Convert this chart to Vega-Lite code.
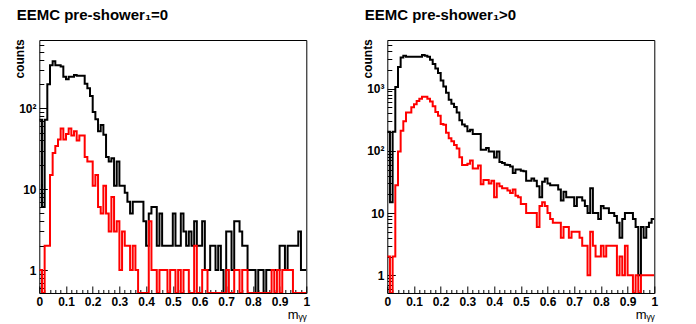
{
"$schema": "https://vega.github.io/schema/vega-lite/v6.json",
"background": "white",
"padding": {"left": 12.3, "top": 7, "right": 2, "bottom": 2},
"datasets": {
"left": [
{"m":0,"all":72,"sel":1},{"m":0.01,"all":6,"sel":0},{"m":0.02,"all":72,"sel":2},{"m":0.03,"all":198,"sel":2},{"m":0.04,"all":340,"sel":15},
{"m":0.05,"all":380,"sel":28},{"m":0.06,"all":340,"sel":34},{"m":0.07,"all":340,"sel":41},{"m":0.08,"all":327,"sel":56},{"m":0.09,"all":245,"sel":41},
{"m":0.1,"all":228,"sel":48},{"m":0.11,"all":245,"sel":56},{"m":0.12,"all":245,"sel":46},{"m":0.13,"all":257,"sel":52},{"m":0.14,"all":252,"sel":40},
{"m":0.15,"all":252,"sel":46},{"m":0.16,"all":252,"sel":46},{"m":0.17,"all":201,"sel":25},{"m":0.18,"all":176,"sel":22},{"m":0.19,"all":142,"sel":22},
{"m":0.2,"all":90,"sel":11},{"m":0.21,"all":73,"sel":15},{"m":0.22,"all":52,"sel":6},{"m":0.23,"all":62,"sel":5},{"m":0.24,"all":47,"sel":11},
{"m":0.25,"all":25,"sel":5},{"m":0.26,"all":22,"sel":3},{"m":0.27,"all":24,"sel":8},{"m":0.28,"all":11,"sel":3},{"m":0.29,"all":22,"sel":4},
{"m":0.3,"all":11,"sel":1},{"m":0.31,"all":11,"sel":3},{"m":0.32,"all":9,"sel":2},{"m":0.33,"all":7,"sel":2},{"m":0.34,"all":5,"sel":1},
{"m":0.35,"all":7,"sel":2},{"m":0.36,"all":7,"sel":1},{"m":0.37,"all":7,"sel":0},{"m":0.38,"all":7,"sel":0},{"m":0.39,"all":4,"sel":0},
{"m":0.4,"all":2,"sel":0},{"m":0.41,"all":5,"sel":4},{"m":0.42,"all":6,"sel":1},{"m":0.43,"all":6,"sel":1},{"m":0.44,"all":2,"sel":0},
{"m":0.45,"all":5,"sel":1},{"m":0.46,"all":2,"sel":1},{"m":0.47,"all":2,"sel":1},{"m":0.48,"all":2,"sel":0},{"m":0.49,"all":2,"sel":1},
{"m":0.5,"all":5,"sel":1},{"m":0.51,"all":2,"sel":0},{"m":0.52,"all":2,"sel":1},{"m":0.53,"all":5,"sel":0},{"m":0.54,"all":3,"sel":1},
{"m":0.55,"all":2,"sel":1},{"m":0.56,"all":3,"sel":0},{"m":0.57,"all":2,"sel":0},{"m":0.58,"all":4,"sel":2},{"m":0.59,"all":2,"sel":0},
{"m":0.6,"all":2,"sel":0},{"m":0.61,"all":4,"sel":1},{"m":0.62,"all":1,"sel":1},{"m":0.63,"all":1,"sel":0},{"m":0.64,"all":2,"sel":0},
{"m":0.65,"all":2,"sel":0},{"m":0.66,"all":1,"sel":0},{"m":0.67,"all":2,"sel":0},{"m":0.68,"all":1,"sel":0},{"m":0.69,"all":0,"sel":0},
{"m":0.7,"all":3,"sel":1},{"m":0.71,"all":3,"sel":0},{"m":0.72,"all":1,"sel":0},{"m":0.73,"all":4,"sel":1},{"m":0.74,"all":4,"sel":1},
{"m":0.75,"all":3,"sel":0},{"m":0.76,"all":2,"sel":1},{"m":0.77,"all":2,"sel":1},{"m":0.78,"all":1,"sel":0},{"m":0.79,"all":1,"sel":0},
{"m":0.8,"all":1,"sel":0},{"m":0.81,"all":0,"sel":0},{"m":0.82,"all":1,"sel":0},{"m":0.83,"all":1,"sel":0},{"m":0.84,"all":0,"sel":0},
{"m":0.85,"all":1,"sel":0},{"m":0.86,"all":1,"sel":0},{"m":0.87,"all":1,"sel":1},{"m":0.88,"all":1,"sel":0},{"m":0.89,"all":1,"sel":1},
{"m":0.9,"all":2,"sel":0},{"m":0.91,"all":2,"sel":1},{"m":0.92,"all":1,"sel":1},{"m":0.93,"all":2,"sel":1},{"m":0.94,"all":2,"sel":1},
{"m":0.95,"all":2,"sel":0},{"m":0.96,"all":2,"sel":0},{"m":0.97,"all":3,"sel":0},{"m":0.98,"all":1,"sel":0},{"m":0.99,"all":1,"sel":0},
{"m":1,"all":1,"sel":0}
],
"right": [
{"m":0,"all":202,"sel":2},{"m":0.01,"all":15,"sel":0},{"m":0.02,"all":202,"sel":2},{"m":0.03,"all":1062,"sel":28},{"m":0.04,"all":2230,"sel":98},
{"m":0.05,"all":3170,"sel":210},{"m":0.06,"all":3370,"sel":300},{"m":0.07,"all":3240,"sel":415},{"m":0.08,"all":3240,"sel":415},{"m":0.09,"all":3240,"sel":500},
{"m":0.1,"all":3240,"sel":560},{"m":0.11,"all":3240,"sel":630},{"m":0.12,"all":3240,"sel":690},{"m":0.13,"all":3480,"sel":740},{"m":0.14,"all":3370,"sel":740},
{"m":0.15,"all":3240,"sel":690},{"m":0.16,"all":2920,"sel":620},{"m":0.17,"all":2480,"sel":520},{"m":0.18,"all":2100,"sel":420},{"m":0.19,"all":1780,"sel":365},
{"m":0.2,"all":1350,"sel":270},{"m":0.21,"all":1080,"sel":263},{"m":0.22,"all":860,"sel":195},{"m":0.23,"all":660,"sel":160},{"m":0.24,"all":570,"sel":142},
{"m":0.25,"all":505,"sel":124},{"m":0.26,"all":415,"sel":109},{"m":0.27,"all":310,"sel":79},{"m":0.28,"all":265,"sel":59},{"m":0.29,"all":249,"sel":59},
{"m":0.3,"all":207,"sel":62},{"m":0.31,"all":219,"sel":70},{"m":0.32,"all":186,"sel":52},{"m":0.33,"all":186,"sel":52},{"m":0.34,"all":186,"sel":58},
{"m":0.35,"all":104,"sel":29},{"m":0.36,"all":104,"sel":34},{"m":0.37,"all":111,"sel":34},{"m":0.38,"all":98,"sel":30},{"m":0.39,"all":98,"sel":33},
{"m":0.4,"all":78,"sel":18},{"m":0.41,"all":98,"sel":30},{"m":0.42,"all":66,"sel":27},{"m":0.43,"all":64,"sel":25},{"m":0.44,"all":60,"sel":25},
{"m":0.45,"all":59,"sel":23},{"m":0.46,"all":56,"sel":21},{"m":0.47,"all":44,"sel":24},{"m":0.48,"all":50,"sel":19},{"m":0.49,"all":50,"sel":18},
{"m":0.5,"all":48,"sel":14},{"m":0.51,"all":47,"sel":14},{"m":0.52,"all":33,"sel":10},{"m":0.53,"all":33,"sel":10},{"m":0.54,"all":36,"sel":10},
{"m":0.55,"all":33,"sel":10},{"m":0.56,"all":27,"sel":6},{"m":0.57,"all":18,"sel":13},{"m":0.58,"all":32,"sel":15},{"m":0.59,"all":36,"sel":13},
{"m":0.6,"all":30,"sel":10},{"m":0.61,"all":28,"sel":8},{"m":0.62,"all":28,"sel":7},{"m":0.63,"all":28,"sel":7},{"m":0.64,"all":24,"sel":7},
{"m":0.65,"all":16,"sel":4},{"m":0.66,"all":22,"sel":6},{"m":0.67,"all":18,"sel":6},{"m":0.68,"all":18,"sel":4},{"m":0.69,"all":18,"sel":5},
{"m":0.7,"all":13,"sel":5},{"m":0.71,"all":18,"sel":5},{"m":0.72,"all":18,"sel":4},{"m":0.73,"all":16,"sel":3},{"m":0.74,"all":13,"sel":3},
{"m":0.75,"all":10,"sel":1},{"m":0.76,"all":25,"sel":5},{"m":0.77,"all":10,"sel":3},{"m":0.78,"all":10,"sel":2},{"m":0.79,"all":8,"sel":2},
{"m":0.8,"all":13,"sel":3},{"m":0.81,"all":12,"sel":2},{"m":0.82,"all":12,"sel":3},{"m":0.83,"all":10,"sel":3},{"m":0.84,"all":10,"sel":3},
{"m":0.85,"all":9,"sel":3},{"m":0.86,"all":7,"sel":1},{"m":0.87,"all":4,"sel":2},{"m":0.88,"all":8,"sel":1},{"m":0.89,"all":10,"sel":3},
{"m":0.9,"all":10,"sel":1},{"m":0.91,"all":10,"sel":1},{"m":0.92,"all":8,"sel":0},{"m":0.93,"all":6,"sel":1},{"m":0.94,"all":1,"sel":0},
{"m":0.95,"all":6,"sel":1},{"m":0.96,"all":4,"sel":1},{"m":0.97,"all":6,"sel":1},{"m":0.98,"all":7,"sel":1},{"m":0.99,"all":8,"sel":1},
{"m":1,"all":8,"sel":1}
]
},
"config": {
"view": {"stroke": "black", "strokeWidth": 1},
"font": "Liberation Sans",
"axis": {"domain": false, "grid": false, "labelFont": "Liberation Sans", "labelFontWeight": "bold", "labelFontSize": 12, "labelColor": "black", "tickColor": "black", "tickWidth": 1, "titleColor": "black", "titleFont": "Liberation Sans", "labelFlush": false, "labelOverlap": false},
"title": {"font": "Liberation Sans", "fontSize": 15, "fontWeight": "bold", "color": "black", "anchor": "start", "frame": "group", "dx": -22.6, "offset": 15.7, "baseline": "alphabetic"}
},
"bounds": "flush",
"spacing": 81,
"hconcat": [
{
"width": 267, "height": 253,
"title": "EEMC pre-shower₁=0",
"data": {"name": "left"},
"layer": [
{"mark": {"type": "line", "interpolate": "step-after", "color": "black", "strokeWidth": 2, "clip": true, "invalid": "show"},
"encoding": {
"x": {"field": "m", "type": "quantitative", "scale": {"domain": [0, 1], "nice": false, "zero": false},
"axis": {"orient": "bottom", "values": [0,0.1,0.2,0.3,0.4,0.5,0.6,0.7,0.8,0.9,1], "tickSize": -7, "labelPadding": 10.5, "labelExpr": "datum.value == 0 ? '0' : datum.value == 1 ? '1' : format(datum.value, '.1f')", "title": "mᵧᵧ", "titleFontSize": 13, "titleFontWeight": "normal", "titleX": 267, "titleY": 26, "titleAlign": "right", "titleBaseline": "alphabetic", "titleAnchor": "end"}},
"y": {"field": "all", "type": "quantitative", "scale": {"type": "log", "domain": [0.52, 697], "nice": false, "clamp": true},
"axis": {"orient": "left", "values": [1, 10, 100], "tickSize": -8, "labelPadding": 11.3, "labelExpr": "datum.value == 1 ? '1' : datum.value == 10 ? '10' : datum.value == 100 ? '10²' : '10³'", "title": "counts", "titleFontSize": 12, "titleFontWeight": "bold", "titleAngle": -90, "titleX": -16, "titleY": -1.3, "titleAlign": "right", "titleBaseline": "alphabetic", "titleAnchor": "end"}}
}},
{"mark": {"type": "line", "interpolate": "step-after", "color": "#ff0000", "strokeWidth": 2, "clip": true, "invalid": "show"},
"encoding": {
"x": {"field": "m", "type": "quantitative",
"axis": {"orient": "bottom", "values": [0.02,0.04,0.06,0.08,0.12,0.14,0.16,0.18,0.22,0.24,0.26,0.28,0.32,0.34,0.36,0.38,0.42,0.44,0.46,0.48,0.52,0.54,0.56,0.58,0.62,0.64,0.66,0.68,0.72,0.74,0.76,0.78,0.82,0.84,0.86,0.88,0.92,0.94,0.96,0.98], "tickSize": -3.5, "labels": false, "title": null}},
"y": {"field": "sel", "type": "quantitative",
"axis": {"orient": "left", "values": [0.6,0.7,0.8,0.9,2,3,4,5,6,7,8,9,20,30,40,50,60,70,80,90,200,300,400,500,600], "tickSize": -4.5, "labels": false, "title": null}}
}}
],
"resolve": {"axis": {"x": "independent", "y": "independent"}}
},
{
"width": 267, "height": 253,
"title": "EEMC pre-shower₁>0",
"data": {"name": "right"},
"layer": [
{"mark": {"type": "line", "interpolate": "step-after", "color": "black", "strokeWidth": 2, "clip": true, "invalid": "show"},
"encoding": {
"x": {"field": "m", "type": "quantitative", "scale": {"domain": [0, 1], "nice": false, "zero": false},
"axis": {"orient": "bottom", "values": [0,0.1,0.2,0.3,0.4,0.5,0.6,0.7,0.8,0.9,1], "tickSize": -7, "labelPadding": 10.5, "labelExpr": "datum.value == 0 ? '0' : datum.value == 1 ? '1' : format(datum.value, '.1f')", "title": "mᵧᵧ", "titleFontSize": 13, "titleFontWeight": "normal", "titleX": 267, "titleY": 26, "titleAlign": "right", "titleBaseline": "alphabetic", "titleAnchor": "end"}},
"y": {"field": "all", "type": "quantitative", "scale": {"type": "log", "domain": [0.52, 6040], "nice": false, "clamp": true},
"axis": {"orient": "left", "values": [1, 10, 100, 1000], "tickSize": -8, "labelPadding": 11.3, "labelExpr": "datum.value == 1 ? '1' : datum.value == 10 ? '10' : datum.value == 100 ? '10²' : '10³'", "title": "counts", "titleFontSize": 12, "titleFontWeight": "bold", "titleAngle": -90, "titleX": -16, "titleY": -1.3, "titleAlign": "right", "titleBaseline": "alphabetic", "titleAnchor": "end"}}
}},
{"mark": {"type": "line", "interpolate": "step-after", "color": "#ff0000", "strokeWidth": 2, "clip": true, "invalid": "show"},
"encoding": {
"x": {"field": "m", "type": "quantitative",
"axis": {"orient": "bottom", "values": [0.02,0.04,0.06,0.08,0.12,0.14,0.16,0.18,0.22,0.24,0.26,0.28,0.32,0.34,0.36,0.38,0.42,0.44,0.46,0.48,0.52,0.54,0.56,0.58,0.62,0.64,0.66,0.68,0.72,0.74,0.76,0.78,0.82,0.84,0.86,0.88,0.92,0.94,0.96,0.98], "tickSize": -3.5, "labels": false, "title": null}},
"y": {"field": "sel", "type": "quantitative",
"axis": {"orient": "left", "values": [0.6,0.7,0.8,0.9,2,3,4,5,6,7,8,9,20,30,40,50,60,70,80,90,200,300,400,500,600,700,800,900,2000,3000,4000,5000,6000], "tickSize": -4.5, "labels": false, "title": null}}
}}
],
"resolve": {"axis": {"x": "independent", "y": "independent"}}
}
]
}
